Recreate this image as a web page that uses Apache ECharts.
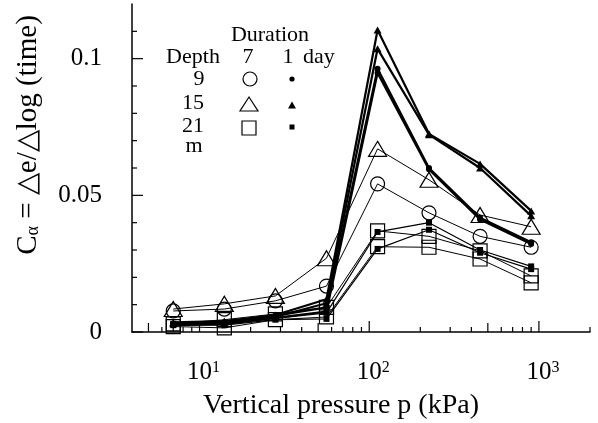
<!DOCTYPE html>
<html><head><meta charset="utf-8">
<script src="https://cdn.jsdelivr.net/npm/echarts@6/dist/echarts.min.js"></script>
<style>html,body{margin:0;padding:0;background:#fff}#c{width:598px;height:423px}</style>
</head><body><div id="c"></div>
<script>
// Vertical pressure (kPa)
const pressures = [7, 14, 28, 56, 112, 225, 450, 900];
// 7-day duration (open markers)
const d7_9m  = [0.0077, 0.0084, 0.0114, 0.0168, 0.0542, 0.0436, 0.0350, 0.0310];
const d7_15m = [0.0084, 0.0103, 0.0132, 0.0270, 0.0670, 0.0557, 0.0428, 0.0385];
const d7_21mA = [0.0030, 0.0045, 0.0066, 0.0090, 0.0370, 0.0350, 0.0297, 0.0205];
const d7_21mB = [0.0020, 0.0015, 0.0045, 0.0055, 0.0312, 0.0310, 0.0267, 0.0180];
// 1-day duration (filled markers)
const d1_9mA  = [0.0030, 0.0035, 0.0060, 0.0090, 0.0963, 0.0600, 0.0418, 0.0328];
const d1_9mB  = [0.0025, 0.0030, 0.0052, 0.0075, 0.0948, 0.0595, 0.0412, 0.0322];
const d1_15mA = [0.0035, 0.0040, 0.0062, 0.0120, 0.1105, 0.0725, 0.0615, 0.0443];
const d1_15mB = [0.0030, 0.0036, 0.0056, 0.0105, 0.1036, 0.0722, 0.0600, 0.0425];
const d1_21mA = [0.0030, 0.0030, 0.0050, 0.0070, 0.0366, 0.0400, 0.0300, 0.0240];
const d1_21mB = [0.0025, 0.0025, 0.0045, 0.0048, 0.0304, 0.0374, 0.0290, 0.0230];
// axis ticks
const xMajorTicks = [10, 100, 1000];
const xMidTicks = [5, 50, 500];
const xMinorTicks = [6, 7, 8, 9, 20, 30, 40, 60, 70, 80, 90, 200, 300, 400, 600, 700, 800, 900, 2000];
const yMajorTicks = [0, 0.05, 0.1];
const yMinorTicks = [0.01, 0.02, 0.03, 0.04, 0.06, 0.07, 0.08, 0.09, 0.11];
const X_MIN = 4, X_MAX = 2000;

const FONT = "'Liberation Serif', 'Times New Roman', serif";
const chart = echarts.init(document.getElementById('c'), null, {renderer: 'canvas'});

function pairs(vals) { return pressures.map((p, i) => [p, vals[i]]); }
function dataSeries(name, vals, symbol, size, filled, lw) {
  return {
    type: 'line', name: name, data: pairs(vals), symbol: symbol, symbolSize: size,
    showSymbol: true, animation: false, z: filled ? 4 : 3,
    lineStyle: {color: '#000', width: lw},
    itemStyle: filled ? {color: '#000', borderColor: '#000', borderWidth: 0}
                      : {color: 'rgba(0,0,0,0)', borderColor: '#000', borderWidth: 1.2}
  };
}
function xTickSeries(vals, len) {
  return {
    type: 'custom', silent: true, animation: false, clip: false, z: 10,
    data: vals.map(v => [v, 0]),
    renderItem: (params, api) => {
      const pt = api.coord([api.value(0), 0]);
      return {type: 'line', shape: {x1: pt[0], y1: pt[1], x2: pt[0], y2: pt[1] - len},
              style: {stroke: '#000', lineWidth: 1.2}};
    }
  };
}
function yTickSeries(vals, len) {
  return {
    type: 'custom', silent: true, animation: false, clip: false, z: 10,
    data: vals.map(v => [X_MIN, v]),
    renderItem: (params, api) => {
      const pt = api.coord([X_MIN, api.value(1)]);
      return {type: 'line', shape: {x1: pt[0], y1: pt[1], x2: pt[0] + len, y2: pt[1]},
              style: {stroke: '#000', lineWidth: 1.2}};
    }
  };
}

const option = {
  backgroundColor: '#fff',
  animation: false,
  grid: {left: 132, right: 8, top: 4, bottom: 91, containLabel: false},
  xAxis: {
    type: 'log', logBase: 10, min: X_MIN, max: X_MAX,
    axisLine: {show: true, onZero: false, lineStyle: {color: '#000', width: 1.5}},
    axisTick: {show: false}, splitLine: {show: false}, minorTick: {show: false},
    axisLabel: {
      margin: 28, color: '#000', showMinLabel: false, showMaxLabel: false,
      formatter: v => {
        const l = Math.log10(v), e = Math.round(l);
        if (Math.abs(l - e) < 1e-6 && e >= 1 && e <= 3) return '{b|10}{s|' + e + '}';
        return '';
      },
      rich: {
        b: {fontSize: 25, fontFamily: FONT, color: '#000', padding: [0, 0, 0, 8]},
        s: {fontSize: 16, fontFamily: FONT, color: '#000', verticalAlign: 'top'}
      }
    }
  },
  yAxis: {
    type: 'value', min: 0, max: 0.12, interval: 0.05,
    axisLine: {show: true, onZero: false, lineStyle: {color: '#000', width: 1.5}},
    axisTick: {show: false}, splitLine: {show: false},
    axisLabel: {
      margin: 30, color: '#000', fontSize: 25, fontFamily: FONT, showMaxLabel: false,
      formatter: v => (v > 0.105 && v < 0.115) || v > 0.115 ? (Math.abs(v - 0.1) < 1e-9 ? '0.1' : '') : String(+v.toFixed(2))
    }
  },
  series: [
    dataSeries('7 day 9 m', d7_9m, 'circle', 14, false, 1),
    dataSeries('7 day 15 m', d7_15m, 'triangle', [18, 15], false, 1),
    dataSeries('7 day 21 m', d7_21mA, 'rect', 14, false, 1),
    dataSeries('7 day 21 m', d7_21mB, 'rect', 14, false, 1),
    dataSeries('1 day 21 m', d1_21mA, 'rect', 6, true, 1.2),
    dataSeries('1 day 21 m', d1_21mB, 'rect', 6, true, 1.2),
    dataSeries('1 day 9 m', d1_9mA, 'circle', 6, true, 2.2),
    dataSeries('1 day 9 m', d1_9mB, 'circle', 6, true, 2.2),
    dataSeries('1 day 15 m', d1_15mA, 'triangle', [8, 7], true, 2.2),
    dataSeries('1 day 15 m', d1_15mB, 'triangle', [8, 7], true, 2.2),
    xTickSeries(xMajorTicks, 11),
    xTickSeries(xMidTicks, 9),
    xTickSeries(xMinorTicks, 5),
    yTickSeries(yMajorTicks, 11),
    yTickSeries(yMinorTicks, 5)
  ],
  graphic: [
    {type: 'text', x: 341, y: 406, style: {text: 'Vertical pressure p (kPa)', font: '28px ' + FONT, fill: '#000', align: 'center', verticalAlign: 'middle'}},
    {type: 'text', x: 28, y: 135, rotation: Math.PI / 2,
     style: {text: '{c|C}{a|α}{c| = △e/△log (time)}', align: 'center', verticalAlign: 'middle', fill: '#000',
             rich: {c: {fontSize: 29, fontFamily: FONT, color: '#000'}, a: {fontSize: 18, fontFamily: FONT, color: '#000', verticalAlign: 'bottom'}}}},
    // legend table
    {type: 'text', x: 270, y: 35, style: {text: 'Duration', font: '22px ' + FONT, fill: '#000', align: 'center', verticalAlign: 'middle'}},
    {type: 'text', x: 193, y: 57, style: {text: 'Depth', font: '22px ' + FONT, fill: '#000', align: 'center', verticalAlign: 'middle'}},
    {type: 'text', x: 248, y: 57, style: {text: '7', font: '22px ' + FONT, fill: '#000', align: 'center', verticalAlign: 'middle'}},
    {type: 'text', x: 288, y: 57, style: {text: '1', font: '22px ' + FONT, fill: '#000', align: 'center', verticalAlign: 'middle'}},
    {type: 'text', x: 303, y: 57, style: {text: 'day', font: '22px ' + FONT, fill: '#000', align: 'left', verticalAlign: 'middle'}},
    {type: 'text', x: 199, y: 79, style: {text: '9', font: '22px ' + FONT, fill: '#000', align: 'center', verticalAlign: 'middle'}},
    {type: 'text', x: 193, y: 103, style: {text: '15', font: '22px ' + FONT, fill: '#000', align: 'center', verticalAlign: 'middle'}},
    {type: 'text', x: 193, y: 126, style: {text: '21', font: '22px ' + FONT, fill: '#000', align: 'center', verticalAlign: 'middle'}},
    {type: 'text', x: 194, y: 146, style: {text: 'm', font: '22px ' + FONT, fill: '#000', align: 'center', verticalAlign: 'middle'}},
    {type: 'circle', shape: {cx: 250, cy: 79, r: 7}, style: {fill: 'none', stroke: '#000', lineWidth: 1.2}},
    {type: 'circle', shape: {cx: 292, cy: 79, r: 2.6}, style: {fill: '#000'}},
    {type: 'polygon', shape: {points: [[240, 111], [258, 111], [249, 97]]}, style: {fill: 'none', stroke: '#000', lineWidth: 1.2}},
    {type: 'polygon', shape: {points: [[288, 108.5], [296, 108.5], [292, 101.5]]}, style: {fill: '#000'}},
    {type: 'rect', shape: {x: 242, y: 121, width: 14, height: 14}, style: {fill: 'none', stroke: '#000', lineWidth: 1.2}},
    {type: 'rect', shape: {x: 289.5, y: 124.5, width: 5, height: 5}, style: {fill: '#000'}}
  ]
};
chart.setOption(option);
</script>
</body></html>
